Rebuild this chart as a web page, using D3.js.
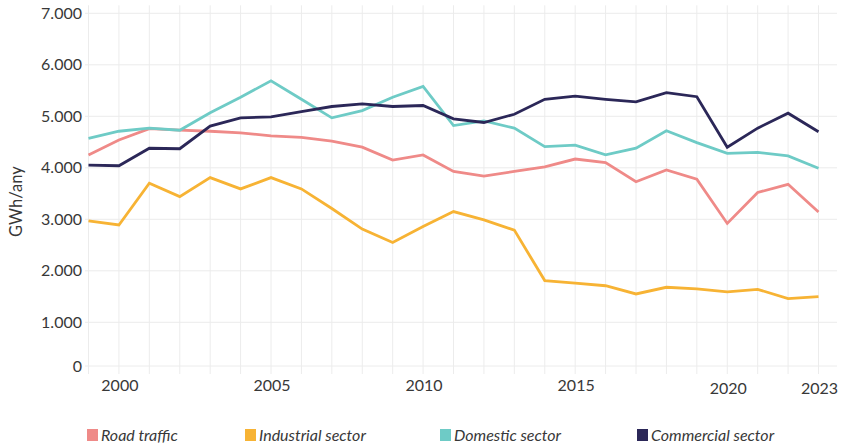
<!DOCTYPE html>
<html>
<head>
<meta charset="utf-8">
<script src="https://cdn.jsdelivr.net/npm/d3@7"></script>
<style>
  html, body { margin: 0; padding: 0; background: #ffffff; }
  svg { display: block; }
  text { font-family: Lato, "Open Sans", sans-serif; fill: #383838; }
</style>
</head>
<body>
<svg id="chart" width="841" height="447"></svg>
<script>
// Energy consumption by sector, GWh per year
const years = d3.range(1999, 2024);
const roadTraffic = [4250, 4540, 4760, 4730, 4710, 4680, 4620, 4590, 4520, 4400, 4150, 4250,
  3930, 3840, 3930, 4020, 4170, 4100, 3730, 3960, 3780, 2920, 3520, 3680, 3140];
const industrialSector = [2970, 2890, 3700, 3440, 3810, 3590, 3810, 3590, 3210, 2810, 2550, 2860,
  3150, 2990, 2790, 1810, 1760, 1710, 1550, 1680, 1650, 1590, 1640, 1460, 1500];
const domesticSector = [4570, 4710, 4770, 4730, 5070, 5370, 5690, 5330, 4970, 5110, 5370, 5580,
  4820, 4910, 4770, 4410, 4440, 4250, 4380, 4720, 4490, 4280, 4300, 4230, 3990];
const commercialSector = [4050, 4040, 4380, 4370, 4810, 4970, 4990, 5090, 5190, 5240, 5190, 5210,
  4950, 4880, 5040, 5330, 5390, 5330, 5280, 5460, 5380, 4400, 4770, 5060, 4700];
const seriesNames = ["Road traffic", "Industrial sector", "Domestic sector", "Commercial sector"];
const seriesColors = ["#ef8a88", "#f7b334", "#6ecbc6", "#2b2758"];
const yTicks = [0, 1000, 2000, 3000, 4000, 5000, 6000, 7000];
const xTickYears = [2000, 2005, 2010, 2015, 2020, 2023];
const yTitle = "GWh/any";

const seriesValues = [roadTraffic, industrialSector, domesticSector, commercialSector];

const svg = d3.select("#chart");
const gridLeft = 85, gridRight = 837, plotBottom = 366, gridBottom = 374;

const x = d3.scaleLinear().domain([1999, 2023]).range([88.5, 818.5]);
const y = d3.scaleLinear().domain([0, 7000]).range([373.8, 13.3]);
const fmt = v => d3.format(",")(v).replace(/,/g, ".");

// grid
const grid = svg.append("g").attr("class", "grid");
grid.selectAll("line.v").data(years).join("line")
  .attr("x1", d => x(d)).attr("x2", d => x(d))
  .attr("y1", y(7000) - 8).attr("y2", gridBottom)
  .attr("stroke", "#ececec").attr("stroke-width", 1);
grid.selectAll("line.h").data(yTicks).join("line")
  .attr("x1", gridLeft).attr("x2", gridRight)
  .attr("y1", d => Math.min(y(d), plotBottom)).attr("y2", d => Math.min(y(d), plotBottom))
  .attr("stroke", "#ececec").attr("stroke-width", 1);

// y axis labels
svg.append("g").selectAll("text").data(yTicks).join("text")
  .attr("x", 82).attr("y", d => Math.min(y(d), plotBottom))
  .attr("dy", "0.35em").attr("text-anchor", "end")
  .style("font-size", "16px").text(fmt);

svg.append("text")
  .attr("transform", `translate(22, ${(y(7000) + y(0)) / 2 + 8}) rotate(-90)`)
  .attr("text-anchor", "middle").style("font-size", "16.5px").text(yTitle);

// x axis labels
svg.append("g").selectAll("text").data(xTickYears).join("text")
  .attr("x", d => x(d) + 1).attr("y", d => d >= 2020 ? 388 : 385)
  .attr("dy", "0.35em").attr("text-anchor", "middle")
  .style("font-size", "16px").text(d => d);

// lines
const line = d3.line().x((d, i) => x(years[i])).y(d => y(d));
svg.append("g").selectAll("path").data(seriesValues).join("path")
  .attr("d", d => line(d))
  .attr("fill", "none")
  .attr("stroke", (d, i) => seriesColors[i])
  .attr("stroke-width", 2.8)
  .attr("stroke-linejoin", "miter")
  .attr("stroke-linecap", "butt");

// legend
const legendX = [87, 245, 440, 637];
const legend = svg.append("g").selectAll("g").data(seriesNames).join("g")
  .attr("transform", (d, i) => `translate(${legendX[i]}, 435)`);
legend.append("rect").attr("x", 0).attr("y", -6).attr("width", 11).attr("height", 12)
  .attr("fill", (d, i) => seriesColors[i]);
legend.append("text").attr("x", 14).attr("dy", "0.35em")
  .style("font-size", "16px").style("font-style", "italic").text(d => d);
</script>
</body>
</html>
